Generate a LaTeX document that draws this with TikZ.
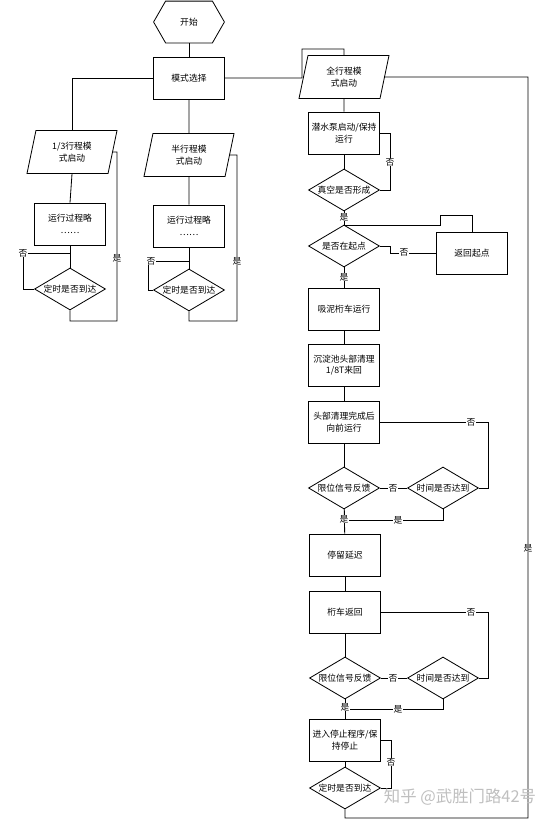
\documentclass[tikz,border=0pt]{standalone}
\usepackage{fontspec}
\setmainfont{Noto Sans CJK SC}
\usetikzlibrary{shapes.geometric}

\begin{document}
\begin{tikzpicture}[x=0.3mm,y=-0.3mm,line width=0.7pt,
    every node/.style={font=\fontsize{7.5}{10}\selectfont, align=center},
    box/.style={draw, rectangle, minimum width=21.3mm, minimum height=12.6mm, inner sep=1pt},
    choice/.style={draw, diamond, aspect=1.7, minimum width=21.3mm, minimum height=12.6mm, inner sep=0pt},
    io/.style={draw, trapezium, trapezium left angle=68, trapezium right angle=112,
        trapezium stretches body, minimum width=27mm, minimum height=12.9mm, inner sep=1pt},
    lbl/.style={fill=white, inner sep=0.5pt}]
    \useasboundingbox (0,0) rectangle (553,822);
    % start and mode choice
    \node[minimum width=21mm, minimum height=12.3mm] (start) at (189,22) {开始};
    \draw ([xshift=3.6mm]start.north west) -- ([xshift=-3.6mm]start.north east) -- (start.east)
        -- ([xshift=-3.6mm]start.south east) -- ([xshift=3.6mm]start.south west) -- (start.west) -- cycle;
    \node[box] (mode) at (189,78) {模式选择};
    % 1/3 stroke column
    \node[io] (p13) at (72,152) {1/3行程模\\式启动};
    \node[box] (run1) at (70,224) {运行过程略\\……};
    \node[choice] (t1) at (70,289) {定时是否到达};
    % half stroke column
    \node[io] (phalf) at (189,155) {半行程模\\式启动};
    \node[box] (run2) at (189,226) {运行过程略\\……};
    \node[choice] (t2) at (189,290) {定时是否到达};
    % full stroke column
    \node[io] (pfull) at (344,77) {全行程模\\式启动};
    \node[box] (pump) at (344,133) {潜水泵启动/保持\\运行};
    \node[choice] (vac) at (344,190) {真空是否形成};
    \node[choice] (atstart) at (344,246) {是否在起点};
    \node[box] (back) at (472,253) {返回起点};
    \node[box] (suck) at (344,309) {吸泥桁车运行};
    \node[box] (clean) at (344,365) {沉淀池头部清理\\1/8T来回};
    \node[box] (fwd) at (344,422) {头部清理完成后\\向前运行};
    \node[choice] (lim1) at (344,488) {限位信号反馈};
    \node[choice] (time1) at (443,488) {时间是否达到};
    \node[box] (delay) at (345,555) {停留延迟};
    \node[box] (ret) at (345,612) {桁车返回};
    \node[choice] (lim2) at (345,678) {限位信号反馈};
    \node[choice] (time2) at (443,678) {时间是否达到};
    \node[box] (stop) at (345,740) {进入停止程序/保\\持停止};
    \node[choice] (t3) at (345,788) {定时是否到达};

    % connectors, top part
    \draw (start) -- (mode);
    \draw (mode.west) -| (p13.north);
    \draw (mode) -- (phalf);
    \draw (mode.east) -- (302,78) |- (344,49) -- (pfull.north);
    % 1/3 stroke loops
    \draw (p13.south) -- (run1.north);
    \draw (run1) -- (t1);
    \draw (t1.west) -| (23,253) -- (70,253);
    \draw (t1.south) -- (70,321) -| (117,152) -- (p13.east);
    % half stroke loops
    \draw (phalf.south) -- (run2.north);
    \draw (run2) -- (t2);
    \draw (t2.west) -| (148,261) -- (189,261);
    \draw (t2.south) -- (189,321) -| (237,155) -- (phalf.east);
    % full stroke
    \draw (pfull.south) -- (pump.north);
    \draw (pump) -- (vac);
    \draw (pump.east) -- (390,133) |- (vac.east);
    \draw (vac) -- (atstart);
    \draw (atstart.east) -- (390,246) |- (back.west);
    \draw (back.north) |- (440,215) |- (344,225);
    \draw (atstart) -- (suck);
    \draw (suck) -- (clean);
    \draw (clean) -- (fwd);
    \draw (fwd) -- (lim1);
    \draw (lim1) -- (time1);
    \draw (time1.east) -- (488,488) |- (fwd.east);
    \draw (time1.south) |- (344,520);
    \draw (lim1) -- (delay);
    \draw (delay) -- (ret);
    \draw (ret) -- (lim2);
    \draw (lim2) -- (time2);
    \draw (time2.east) -- (488,678) |- (ret.east);
    \draw (time2.south) |- (345,709);
    \draw (lim2) -- (stop);
    \draw (stop.east) -- (391,740) |- (t3.east);
    \draw (stop) -- (t3);
    \draw (t3.south) -- (345,818) -| (528,77) -- (pfull.east);

    % yes / no labels
    \node[lbl] (no1) at (23,253) {否};
    \node[lbl] (yes1) at (117,258) {是};
    \node[lbl] (no2) at (151,261) {否};
    \node[lbl] (yes2) at (237,261) {是};
    \node[lbl] (nopump) at (390,162) {否};
    \node[lbl] (yesvac) at (344,217) {是};
    \node[lbl] (noback) at (404,252) {否};
    \node[lbl] (yesstart) at (344,277) {是};
    \node[lbl] (nolim1) at (393,488) {否};
    \node[lbl] (notime1) at (471,422) {否};
    \node[lbl] (yestime1) at (398,520) {是};
    \node[lbl] (yeslim1) at (344,519) {是};
    \node[lbl] (nolim2) at (393,678) {否};
    \node[lbl] (notime2) at (471,612) {否};
    \node[lbl] (yestime2) at (398,709) {是};
    \node[lbl] (yeslim2) at (345,707) {是};
    \node[lbl] (nostop) at (391,762) {否};
    \node[lbl] (yesfull) at (528,548) {是};
    % watermark
    \node[text=black!25, font=\fontsize{14}{16}\selectfont] (mark) at (460,797) {知乎 @武胜门路42号};
\end{tikzpicture}
\end{document}
